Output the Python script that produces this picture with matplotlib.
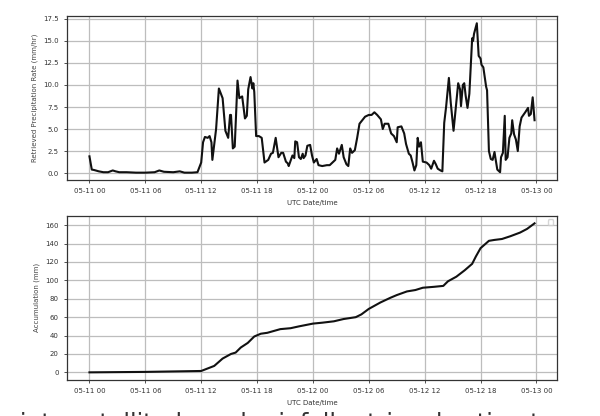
import datetime as dt
import matplotlib
matplotlib.use("Agg")
import matplotlib.pyplot as plt
import matplotlib.dates as mdates

start = dt.datetime(2023, 5, 11, 0, 0)

# retrieved precipitation rate (mm/hr), hours after 05-11 00 UTC
rate_hours = [0.0, 0.25, 0.5, 1.0, 1.5, 2.0, 2.5, 2.8, 3.2, 4.0, 5.0, 6.0, 7.0, 7.5,
              8.0, 9.0, 9.7, 10.2, 11.0, 11.6, 12.0, 12.2, 12.4, 12.7, 12.9, 13.1,
              13.2, 13.6, 13.9, 14.3, 14.6, 14.9, 15.1, 15.2, 15.4, 15.6, 15.9, 16.1,
              16.4, 16.7, 16.9, 17.05, 17.3, 17.5, 17.6, 17.7, 17.9, 18.2, 18.5, 18.8,
              19.2, 19.5, 19.7, 20.0, 20.3, 20.6, 20.8, 21.1, 21.3, 21.4, 21.8, 22.0,
              22.1, 22.3, 22.5, 22.7, 22.9, 23.0, 23.2, 23.4, 23.7, 23.9, 24.1, 24.4,
              24.6, 25.0, 25.5, 25.8, 26.1, 26.4, 26.6, 26.8, 27.1, 27.3, 27.6, 27.8,
              28.0, 28.2, 28.5, 28.75, 29.0, 29.3, 29.6, 30.0, 30.3, 30.6, 30.9, 31.3,
              31.5, 31.7, 32.1, 32.4, 32.7, 33.0, 33.1, 33.5, 33.8, 34.0, 34.3, 34.5,
              34.7, 34.9, 35.1, 35.25, 35.4, 35.6, 35.8, 36.2, 36.5, 36.7, 37.0, 37.2,
              37.4, 37.7, 37.9, 38.1, 38.3, 38.6, 38.8, 39.1, 39.4, 39.6, 39.8, 39.9,
              40.1, 40.25, 40.4, 40.6, 40.8, 41.1, 41.2, 41.3, 41.6, 41.8, 42.0, 42.1,
              42.3, 42.6, 42.7, 42.8, 42.9, 43.1, 43.3, 43.5, 43.6, 43.8, 44.1, 44.2,
              44.4, 44.6, 44.7, 44.9, 45.1, 45.3, 45.4, 45.6, 45.8, 46.0, 46.2, 46.4,
              46.8, 47.1, 47.2, 47.4, 47.6, 47.8]
rate = [1.9, 0.4, 0.35, 0.2, 0.1, 0.1, 0.3, 0.2, 0.1, 0.1, 0.05, 0.05, 0.1, 0.3,
        0.15, 0.1, 0.2, 0.05, 0.05, 0.1, 1.2, 3.5, 4.1, 4.0, 4.2, 3.5,
        1.5, 5.0, 9.6, 8.5, 4.8, 4.0, 6.6, 6.6, 2.8, 3.0, 10.5, 8.5,
        8.7, 6.2, 6.5, 9.5, 10.9, 9.6, 10.2, 9.2, 4.2, 4.2, 4.0, 1.2,
        1.5, 2.2, 2.3, 4.0, 1.8, 2.3, 2.3, 1.3, 1.1, 0.8, 2.0, 1.7,
        3.6, 3.5, 1.8, 1.6, 2.2, 1.7, 2.0, 3.1, 3.2, 2.0, 1.2, 1.6,
        0.9, 0.8, 0.9, 0.9, 1.2, 1.5, 2.8, 2.2, 3.2, 1.8, 1.0, 0.8,
        2.8, 2.3, 2.6, 4.0, 5.6, 6.0, 6.4, 6.6, 6.6, 6.9, 6.6, 6.1,
        5.0, 5.6, 5.6, 4.5, 4.2, 3.5, 5.2, 5.3, 4.5, 3.3, 2.2, 2.0,
        1.2, 0.3, 0.9, 4.0, 3.0, 3.5, 1.3, 1.2, 0.9, 0.5, 1.4, 1.0,
        0.5, 0.3, 0.2, 5.7, 7.5, 10.8, 8.0, 4.8, 8.0, 10.2, 9.5, 7.6,
        10.0, 10.2, 8.8, 7.4, 9.0, 15.3, 15.0, 15.8, 17.0, 13.3, 13.0, 12.3,
        12.0, 9.8, 9.4, 6.0, 2.5, 1.6, 1.5, 2.4, 1.7, 0.4, 0.1, 1.8,
        2.3, 6.5, 1.5, 1.8, 4.0, 4.5, 6.0, 4.4, 3.8, 2.5, 5.3, 6.3,
        6.9, 7.4, 6.5, 6.7, 8.6, 6.0]

# accumulation (mm)
acc_hours = [0.0, 6.0, 12.0, 13.4, 14.3, 15.2, 15.7, 16.25, 17.0, 17.7, 18.4, 19.1,
             19.8, 20.5, 21.6, 22.5, 24.0, 25.0, 26.25, 27.3, 28.6, 29.2, 30.0, 31.25,
             32.3, 33.0, 34.1, 35.0, 35.8, 37.0, 38.0, 38.5, 39.4, 40.3, 41.1, 41.5,
             42.0, 42.9, 43.5, 44.3, 45.2, 46.25, 47.0, 47.8]
accum = [0.0, 0.5, 1.5, 7, 15, 20, 21.5, 27, 32, 39, 42, 43,
         45, 47, 48, 50, 53, 54, 55.5, 58, 60, 63, 69, 76,
         81, 84, 88, 89.5, 92, 93, 94, 99, 104, 111, 118, 126,
         135, 143, 144, 145, 148, 152, 156, 162]

rate_times = [start + dt.timedelta(hours=h) for h in rate_hours]
acc_times = [start + dt.timedelta(hours=h) for h in acc_hours]

plt.rcParams['font.size'] = 5

fig = plt.figure(figsize=(6, 4.16), dpi=100)
ax1 = fig.add_axes([0.112, 0.567, 0.816, 0.395])
ax2 = fig.add_axes([0.112, 0.087, 0.816, 0.394])

ax1.plot(rate_times, rate, color='#111111', linewidth=1.5)
ax1.set_ylabel('Retrieved Precipitation Rate (mm/hr)', color='#444444')
ax1.set_yticks([0, 2.5, 5, 7.5, 10, 12.5, 15, 17.5])

ax2.plot(acc_times, accum, color='#111111', linewidth=1.5)
ax2.set_ylabel('Accumulation (mm)', color='#444444')
ax2.set_yticks(range(0, 161, 20))

for ax in (ax1, ax2):
    ax.xaxis.set_major_locator(mdates.HourLocator(byhour=[0, 6, 12, 18]))
    ax.xaxis.set_major_formatter(mdates.DateFormatter('%m-%d %H'))
    ax.set_xlabel('UTC Date/time', color='#333333')
    ax.grid(True, color='#bdbdbd', linewidth=0.9)
    ax.tick_params(colors='#333333', length=2.5, width=0.6)
    for s in ax.spines.values():
        s.set_color('#333333')
        s.set_linewidth(0.9)

ax2.legend(loc='upper right')

# page text running below the figure, only its top shows
fig.text(0.0, -0.035, 's into satellite-based rainfall retrieval estimates',
         fontsize=17, color='#333333', va='baseline', ha='left')

fig.savefig('out.png', dpi=100)
